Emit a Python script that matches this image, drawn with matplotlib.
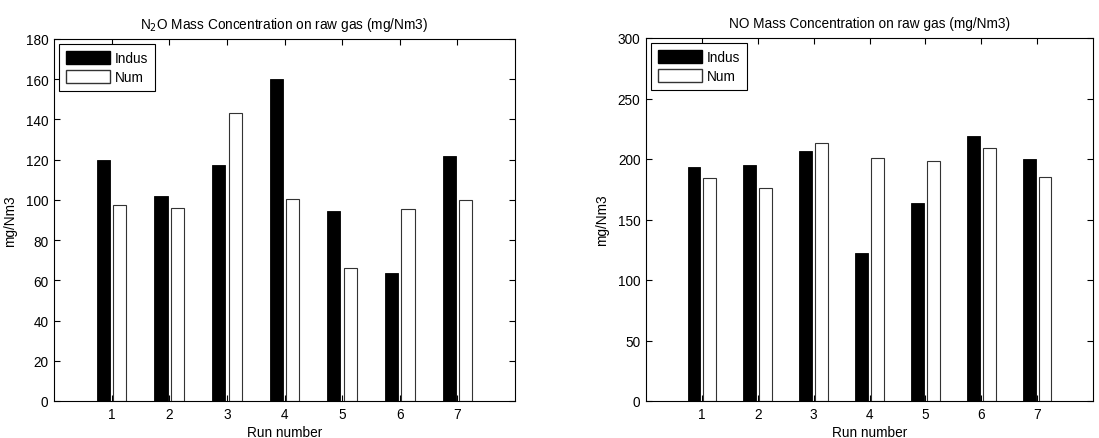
import numpy as np
import matplotlib.pyplot as plt
from matplotlib.patches import Patch

plt.rcParams['font.family'] = ['Liberation Sans', 'DejaVu Sans']
fs = 9.8

# Data
runs = [1, 2, 3, 4, 5, 6, 7]
n2o_indus = [119.7, 102, 117.2, 160, 94.5, 63.5, 122]
n2o_num = [97.7, 96, 143, 100.3, 66, 95.5, 99.7]
no_indus = [193.4, 195, 206.6, 122.6, 163.7, 218.6, 200]
no_num = [184.4, 175.7, 213, 200.8, 198.4, 209, 185.3]

titles = ["N$_2$O Mass Concentration on raw gas (mg/Nm3)",
          "NO Mass Concentration on raw gas (mg/Nm3)"]
ylims = [(0, 180), (0, 300)]
yticks = [np.arange(0, 181, 20), np.arange(0, 301, 50)]

fig = plt.figure(figsize=(10.99, 4.39), dpi=100)
W, H = 1099, 439
# axes boxes in pixels: left, top, right, bottom
boxes = [(54, 40, 515, 402), (646, 39, 1093, 402)]

# MATLAB-style grouped bar geometry
gw = min(0.8, 2 / 3.5)
bw = gw / 2 * 0.8
x = np.array(runs)

for i, (indus, num) in enumerate([(n2o_indus, n2o_num), (no_indus, no_num)]):
    l, t, r, b = boxes[i]
    ax = fig.add_axes([l / W, 1 - b / H, (r - l) / W, (b - t) / H])
    ax.bar(x - gw / 4, indus, width=bw, color='k', edgecolor='k', linewidth=0.6)
    ax.bar(x + gw / 4, num, width=bw, color='white', edgecolor='#333333', linewidth=0.8)
    ax.set_xlim(0, 8)
    ax.set_ylim(*ylims[i])
    ax.set_xticks(runs)
    ax.set_yticks(yticks[i])
    ax.tick_params(direction='in', top=True, right=True, length=4, width=0.8,
                   labelsize=fs, pad=4)
    for s in ax.spines.values():
        s.set_linewidth(0.8)
    ax.set_title(titles[i], fontsize=fs, pad=8)
    ax.set_xlabel("Run number", fontsize=fs, labelpad=3)
    ax.set_ylabel("mg/Nm3", fontsize=fs, labelpad=6)
    handles = [Patch(facecolor='k', edgecolor='k'),
               Patch(facecolor='white', edgecolor='#333333')]
    leg = ax.legend(handles, ["Indus", "Num"], loc='upper left', fancybox=False,
                    edgecolor='k', framealpha=1, fontsize=fs, handlelength=3.2,
                    handleheight=1.1, borderaxespad=0.4, labelspacing=0.35,
                    handletextpad=0.4, borderpad=0.5)
    leg.get_frame().set_linewidth(0.8)

fig.savefig("out.png", dpi=100)
